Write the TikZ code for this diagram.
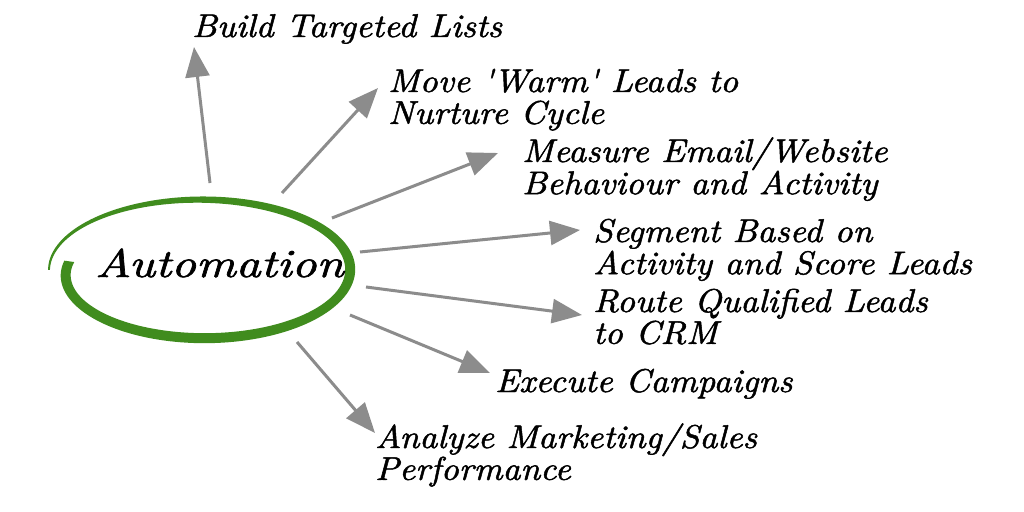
\documentclass[tikz,border=0pt]{standalone}
\usepackage{graphicx}
\usepackage{fontspec}
\newfontfamily\handfont{lmroman10-italic.otf}[FakeBold=1.4]
\usetikzlibrary{arrows.meta}
\definecolor{ringgreen}{RGB}{64,140,30}
\definecolor{arrowgray}{RGB}{140,140,140}
\newcommand{\hw}[2][1.07]{\scalebox{#1}[1]{\fontsize{33}{29}\handfont\begin{tabular}[t]{@{}l@{}}#2\end{tabular}}}
\begin{document}
\begin{tikzpicture}[x=1bp,y=-1bp,
  declare function={uu(\t)=(\t-180)/368; ss(\t)=1-0.035*uu(\t)-0.09*uu(\t)^6; ww(\t)=1.8+8.2*min(1,uu(\t)/0.45);},
  conn/.style={draw=arrowgray,line width=3bp,-{Triangle[length=30bp,width=24bp]}},
  lbl/.style={anchor=base west,inner sep=0pt,text=black}]
\useasboundingbox[fill=white] (0,0) rectangle (1024,512);
% brush-stroke ring
\fill[ringgreen] plot[domain=180:548,samples=160] ({201+(152*ss(\x)+ww(\x)/2)*cos(\x)},{270+(71*ss(\x)+ww(\x)/2)*sin(\x)})
  -- plot[domain=548:180,samples=160] ({201+(152*ss(\x)-ww(\x)/2)*cos(\x)},{270+(71*ss(\x)-ww(\x)/2)*sin(\x)}) -- cycle;
\node[lbl] (auto) at (95,277) {\hw[1.22]{\fontsize{40}{40}\selectfont Automation}};
% labels
\node[lbl] (l1) at (192,37) {\hw{Build Targeted Lists}};
\node[lbl] (l2) at (388,92) {\hw{Move \textquotesingle Warm\textquotesingle\ Leads to\\Nurture Cycle}};
\node[lbl] (l3) at (522,162) {\hw{Measure Email/Website\\Behaviour and Activity}};
\node[lbl] (l4) at (593,242) {\hw{Segment Based on\\Activity and Score Leads}};
\node[lbl] (l5) at (593,312) {\hw{Route Qualified Leads\\to CRM}};
\node[lbl] (l6) at (495,392) {\hw{Execute Campaigns}};
\node[lbl] (l7) at (375,448) {\hw{Analyze Marketing/Sales\\Performance}};
% arrow ends
\coordinate (s1) at (210,183); \coordinate (t1) at (194,47);
\coordinate (s2) at (282,193); \coordinate (t2) at (378,88);
\coordinate (s3) at (332,218); \coordinate (t3) at (498,153);
\coordinate (s4) at (360,252); \coordinate (t4) at (580,230);
\coordinate (s5) at (366,287); \coordinate (t5) at (582,315);
\coordinate (s6) at (350,315); \coordinate (t6) at (490,373);
\coordinate (s7) at (297,342); \coordinate (t7) at (375,433);
\foreach \i in {1,...,7} \draw[conn] (s\i) -- (t\i);
\end{tikzpicture}
\end{document}
